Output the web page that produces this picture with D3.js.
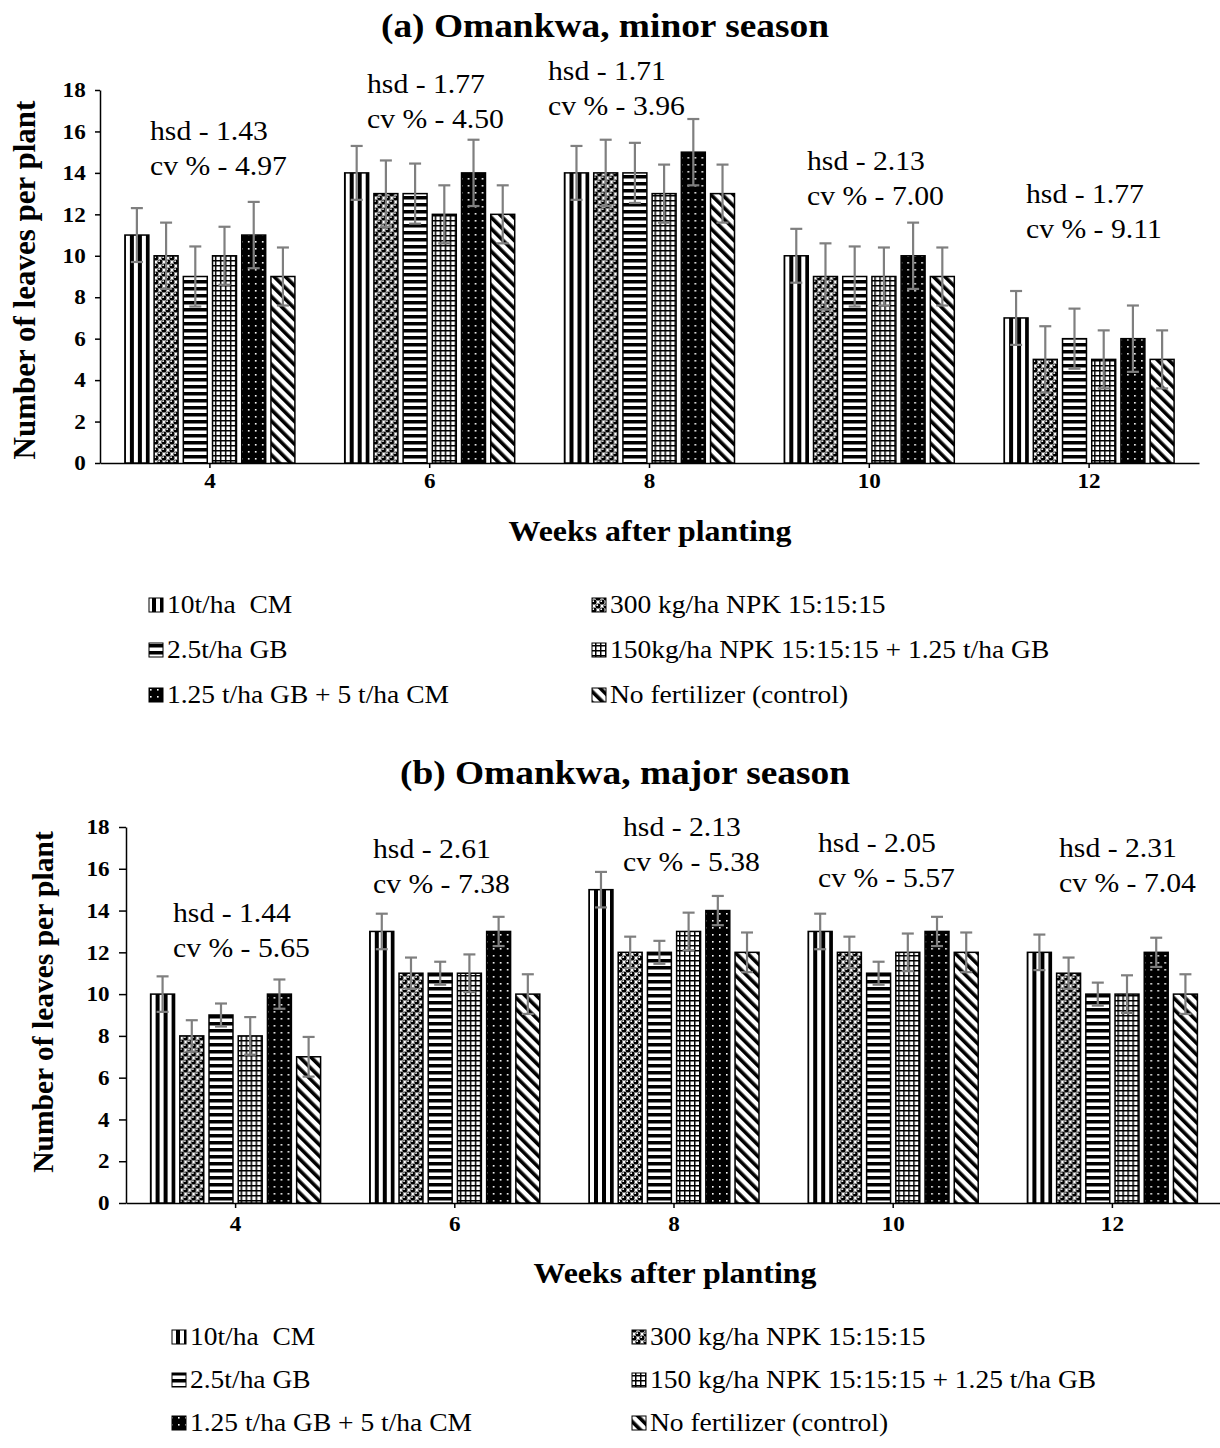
<!DOCTYPE html>
<html>
<head>
<meta charset="utf-8">
<script src="https://cdn.jsdelivr.net/npm/d3@7"></script>
<style>
body { margin: 0; background: #fff; }
svg { display: block; }
text { white-space: pre; }
</style>
</head>
<body>
<svg id="chart"></svg>
<script>
// ---- data ----
const weeks = ['4', '6', '8', '10', '12'];

const minorLabels = ['10t/ha  CM', '300 kg/ha NPK 15:15:15', '2.5t/ha GB',
  '150kg/ha NPK 15:15:15 + 1.25 t/ha GB', '1.25 t/ha GB + 5 t/ha CM', 'No fertilizer (control)'];
const majorLabels = ['10t/ha  CM', '300 kg/ha NPK 15:15:15', '2.5t/ha GB',
  '150 kg/ha NPK 15:15:15 + 1.25 t/ha GB', '1.25 t/ha GB + 5 t/ha CM', 'No fertilizer (control)'];

// one row per week, one value per treatment
const minorMeans = [
  [11, 10, 9, 10, 11, 9],
  [14, 13, 13, 12, 14, 12],
  [14, 14, 14, 13, 15, 13],
  [10, 9, 9, 9, 10, 9],
  [7, 5, 6, 5, 6, 5]
];
const minorErr = [
  [1.3, 1.6, 1.45, 1.4, 1.6, 1.4],
  [1.3, 1.6, 1.45, 1.4, 1.6, 1.4],
  [1.3, 1.6, 1.45, 1.4, 1.6, 1.4],
  [1.3, 1.6, 1.45, 1.4, 1.6, 1.4],
  [1.3, 1.6, 1.45, 1.4, 1.6, 1.4]
];
const majorMeans = [
  [10, 8, 9, 8, 10, 7],
  [13, 11, 11, 11, 13, 10],
  [15, 12, 12, 13, 14, 12],
  [13, 12, 11, 12, 13, 12],
  [12, 11, 10, 10, 12, 10]
];
const majorErr = [
  [0.85, 0.75, 0.55, 0.9, 0.7, 0.95],
  [0.85, 0.75, 0.55, 0.9, 0.7, 0.95],
  [0.85, 0.75, 0.55, 0.9, 0.7, 0.95],
  [0.85, 0.75, 0.55, 0.9, 0.7, 0.95],
  [0.85, 0.75, 0.55, 0.9, 0.7, 0.95]
];

const minorHsd = ['1.43', '1.77', '1.71', '2.13', '1.77'];
const minorCv = ['4.97', '4.50', '3.96', '7.00', '9.11'];
const majorHsd = ['1.44', '2.61', '2.13', '2.05', '2.31'];
const majorCv = ['5.65', '7.38', '5.38', '5.57', '7.04'];

const yTicks = [0, 2, 4, 6, 8, 10, 12, 14, 16, 18];

// ---- setup ----
const FONT = '"Liberation Serif", "Times New Roman", serif';
const SX = 1.1; // the source text is slightly wide

const svg = d3.select('#chart').attr('width', 1220).attr('height', 1448);
const defs = svg.append('defs');

function pat(id, w, h, rot) {
  let p = defs.append('pattern').attr('id', id)
    .attr('patternUnits', 'userSpaceOnUse').attr('width', w).attr('height', h);
  if (rot) p.attr('patternTransform', 'rotate(' + rot + ')');
  return p;
}
// vertical stripes
let p0 = pat('p0', 8, 8);
p0.append('rect').attr('width', 8).attr('height', 8).attr('fill', '#fff');
p0.append('rect').attr('width', 4).attr('height', 8).attr('fill', '#000');
// spheres
let p1 = pat('p1', 8, 8);
p1.append('rect').attr('width', 8).attr('height', 8).attr('fill', '#fff');
[[2, 2], [6, 6], [6, -2], [-2, 6], [10, 6], [6, 10], [2, 10], [10, 2]].forEach(c => {
  p1.append('circle').attr('cx', c[0]).attr('cy', c[1]).attr('r', 2.6).attr('fill', '#000');
});
[[2, 2], [6, 6]].forEach(c => {
  p1.append('circle').attr('cx', c[0] - 0.8).attr('cy', c[1] - 0.8).attr('r', 0.9).attr('fill', '#fff');
});
// horizontal stripes
let p2 = pat('p2', 8, 7);
p2.append('rect').attr('width', 8).attr('height', 7).attr('fill', '#fff');
p2.append('rect').attr('width', 8).attr('height', 3.5).attr('fill', '#000');
// small grid
let p3 = pat('p3', 5, 5);
p3.append('rect').attr('width', 5).attr('height', 5).attr('fill', '#fff');
p3.append('rect').attr('width', 1.5).attr('height', 5).attr('fill', '#000');
p3.append('rect').attr('width', 5).attr('height', 1.5).attr('fill', '#000');
// black with white dots
let p4 = pat('p4', 7, 7);
p4.append('rect').attr('width', 7).attr('height', 7).attr('fill', '#000');
p4.append('rect').attr('x', 3).attr('y', 3).attr('width', 1.6).attr('height', 1.6).attr('fill', '#fff');
// wide downward diagonal
let p5 = pat('p5', 8, 8, -45);
p5.append('rect').attr('width', 8).attr('height', 8).attr('fill', '#fff');
p5.append('rect').attr('width', 3.6).attr('height', 8).attr('fill', '#000');

const fills = ['url(#p0)', 'url(#p1)', 'url(#p2)', 'url(#p3)', 'url(#p4)', 'url(#p5)'];

function txt(g, x, y, s, size, bold, anchor) {
  return g.append('text')
    .attr('transform', 'translate(' + x + ',' + y + ') scale(' + SX + ',1)')
    .attr('font-family', FONT).attr('font-size', size)
    .attr('font-weight', bold ? 'bold' : 'normal')
    .attr('text-anchor', anchor || 'start')
    .text(s);
}

function drawPanel(c) {
  let g = svg.append('g');

  let x = d3.scaleBand().domain(weeks).range([c.left, c.right]);
  let inner = d3.scaleBand().domain(d3.range(6)).range([-85, 85]).paddingInner(0.18);
  let y = d3.scaleLinear().domain([0, 18]).range([c.bottom, c.top]);

  txt(g, c.titleX, c.titleY, c.title, 34, true, 'middle');

  // y axis
  let gy = g.append('g').attr('transform', 'translate(' + c.left + ',0)')
    .call(d3.axisLeft(y).tickValues(yTicks).tickSize(c.tick).tickSizeOuter(0).tickPadding(8));
  gy.selectAll('path, line').attr('stroke', '#000').attr('stroke-width', 1.5);
  gy.selectAll('text').attr('font-family', FONT).attr('font-size', 21).attr('font-weight', 'bold')
    .attr('fill', '#000').attr('transform', 'scale(' + SX + ',1)');

  // x axis
  let gx = g.append('g').attr('transform', 'translate(0,' + c.bottom + ')')
    .call(d3.axisBottom(x).tickSize(5).tickSizeOuter(0).tickPadding(c.xPad));
  gx.selectAll('path, line').attr('stroke', '#000').attr('stroke-width', 1.5);
  gx.selectAll('text').attr('font-family', FONT).attr('font-size', 21).attr('font-weight', 'bold')
    .attr('fill', '#000').attr('transform', 'scale(' + SX + ',1)');

  // bars
  let groups = g.append('g').selectAll('g')
    .data(weeks)
    .enter()
    .append('g')
    .attr('transform', d => 'translate(' + (x(d) + x.bandwidth() / 2) + ',0)');

  groups.selectAll('rect')
    .data((d, i) => c.means[i].map((v, j) => ({ v: v, e: c.err[i][j], j: j })))
    .enter()
    .append('rect')
    .attr('x', d => inner(d.j))
    .attr('y', d => y(d.v))
    .attr('width', inner.bandwidth())
    .attr('height', d => c.bottom - y(d.v))
    .attr('fill', d => fills[d.j])
    .attr('stroke', '#000')
    .attr('stroke-width', 1.5);

  // error bars
  let eb = groups.selectAll('g.eb')
    .data((d, i) => c.means[i].map((v, j) => ({ v: v, e: c.err[i][j], j: j })))
    .enter()
    .append('g').attr('class', 'eb')
    .attr('stroke', '#7f7f7f').attr('stroke-width', 2.2);
  eb.append('line')
    .attr('x1', d => inner(d.j) + inner.bandwidth() / 2)
    .attr('x2', d => inner(d.j) + inner.bandwidth() / 2)
    .attr('y1', d => y(d.v - d.e)).attr('y2', d => y(d.v + d.e));
  [-1, 1].forEach(s => {
    eb.append('line')
      .attr('x1', d => inner(d.j) + inner.bandwidth() / 2 - 6)
      .attr('x2', d => inner(d.j) + inner.bandwidth() / 2 + 6)
      .attr('y1', d => y(d.v + s * d.e)).attr('y2', d => y(d.v + s * d.e));
  });

  // hsd / cv notes
  weeks.forEach((w, i) => {
    let a = c.notes[i];
    txt(g, a[0], a[1], 'hsd - ' + c.hsd[i], 27, false);
    txt(g, a[0], a[1] + 35, 'cv % - ' + c.cv[i], 27, false);
  });

  // axis titles
  g.append('text')
    .attr('transform', 'translate(' + c.yLabX + ',' + c.yLabY + ') rotate(-90)')
    .attr('font-family', FONT).attr('font-size', c.yLabSize).attr('font-weight', 'bold')
    .attr('text-anchor', 'middle').text('Number of leaves per plant');
  txt(g, c.xLabX, c.xLabY, 'Weeks after planting', 29, true, 'middle');

  // legend
  c.labels.forEach((l, i) => {
    let col = i % 2, row = Math.floor(i / 2);
    let lx = c.legX[col], ly = c.legY[row];
    g.append('rect').attr('x', lx).attr('y', ly - 7).attr('width', 14).attr('height', 14)
      .attr('fill', fills[i]).attr('stroke', '#000').attr('stroke-width', 1);
    txt(g, lx + 18, ly + 8, l, 25, false);
  });
}

drawPanel({
  title: '(a) Omankwa, minor season', titleX: 605, titleY: 37,
  left: 100, right: 1199, top: 90, bottom: 463, tick: 5, xPad: 5,
  means: minorMeans, err: minorErr, hsd: minorHsd, cv: minorCv,
  notes: [[150, 140], [367, 93], [548, 80], [807, 170], [1026, 203]],
  yLabX: 35, yLabY: 280, yLabSize: 31,
  xLabX: 650, xLabY: 541,
  labels: minorLabels, legX: [149, 592], legY: [605, 650, 695]
});

drawPanel({
  title: '(b) Omankwa, major season', titleX: 625, titleY: 784,
  left: 126, right: 1222, top: 827, bottom: 1203, tick: 7, xPad: 8,
  means: majorMeans, err: majorErr, hsd: majorHsd, cv: majorCv,
  notes: [[173, 922], [373, 858], [623, 836], [818, 852], [1059, 857]],
  yLabX: 53, yLabY: 1002, yLabSize: 29.5,
  xLabX: 675, xLabY: 1283,
  labels: majorLabels, legX: [172, 632], legY: [1337, 1380, 1423]
});
</script>
</body>
</html>
